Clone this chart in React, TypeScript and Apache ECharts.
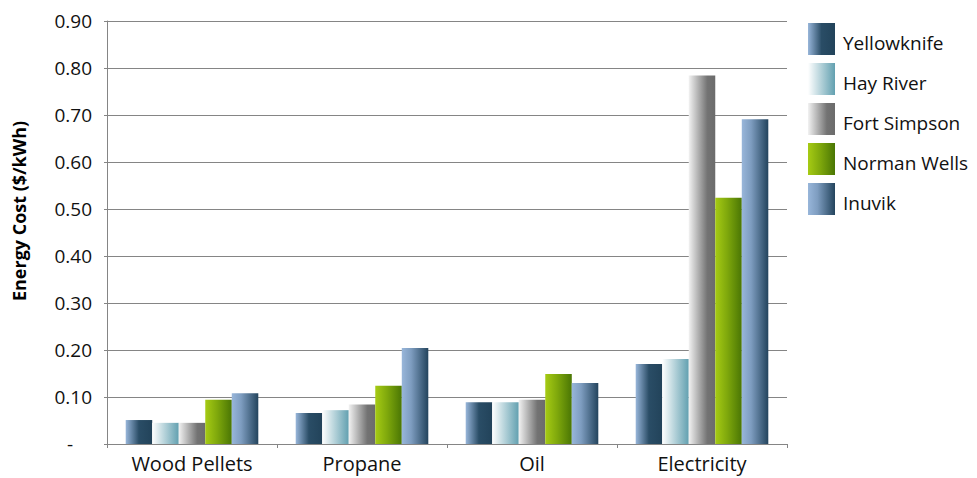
import React, { useEffect, useRef } from "react";
import * as echarts from "echarts";

// Fuel categories along the x axis
const categories = ["Wood Pellets", "Propane", "Oil", "Electricity"];

// Community names (one series each)
const communities = ["Yellowknife", "Hay River", "Fort Simpson", "Norman Wells", "Inuvik"];

// Energy cost in $/kWh, one value per fuel category
const yellowknife = [0.051, 0.066, 0.089, 0.17];
const hayRiver = [0.045, 0.072, 0.089, 0.181];
const fortSimpson = [0.045, 0.084, 0.094, 0.784];
const normanWells = [0.094, 0.124, 0.149, 0.524];
const inuvik = [0.108, 0.204, 0.13, 0.691];

const seriesValues = [yellowknife, hayRiver, fortSimpson, normanWells, inuvik];

// Horizontal gradient stops for each community's bars
const gradientStops: [number, string][][] = [
  [[0, "#98b6da"], [0.5, "#2a4d66"], [1, "#22435a"]],
  [[0, "#ffffff"], [1, "#62a0b0"]],
  [[0, "#f2f2f2"], [0.7, "#737373"], [1, "#6b6b6b"]],
  [[0, "#a6cb14"], [0.45, "#7fa80c"], [1, "#4a7604"]],
  [[0, "#98b6da"], [0.35, "#7e9dc0"], [1, "#23445d"]],
];

const FONT = "'Open Sans', 'Noto Sans', sans-serif";

function makeGradient(stops: [number, string][]) {
  return new echarts.graphic.LinearGradient(
    0,
    0,
    1,
    0,
    stops.map(([offset, color]) => ({ offset, color }))
  );
}

export default function App() {
  const ref = useRef<HTMLDivElement>(null);

  useEffect(() => {
    if (!ref.current) return;
    const chart = echarts.init(ref.current, undefined, { renderer: "svg" });

    chart.setOption({
      animation: false,
      backgroundColor: "#ffffff",
      grid: { left: 107, right: 190, top: 21, bottom: 34, containLabel: false },
      legend: {
        orient: "vertical",
        left: 803,
        top: 18,
        itemWidth: 27,
        itemHeight: 32,
        itemGap: 8,
        icon: "rect",
        selectedMode: false,
        data: communities,
        formatter: (name: string) => `{t|${name}}`,
        textStyle: {
          fontFamily: FONT,
          fontSize: 19,
          color: "#111111",
          padding: [0, 0, 0, 3],
          rich: {
            t: {
              fontFamily: FONT,
              fontSize: 19,
              color: "#111111",
              padding: [7, 0, 0, 0],
            },
          },
        },
      },
      graphic: [
        {
          type: "text",
          x: 19,
          y: 211,
          rotation: Math.PI / 2,
          style: {
            text: "Energy Cost ($/kWh)",
            fontFamily: FONT,
            fontSize: 18,
            fontWeight: "bold",
            fill: "#000000",
            align: "center",
            verticalAlign: "middle",
          },
        },
      ],
      xAxis: {
        type: "category",
        data: categories,
        axisLine: { show: true, lineStyle: { color: "#858585", width: 1 } },
        axisTick: { show: true, length: 4, lineStyle: { color: "#858585" } },
        axisLabel: {
          fontFamily: FONT,
          fontSize: 20,
          color: "#111111",
          margin: 9,
        },
      },
      yAxis: {
        type: "value",
        min: 0,
        max: 0.9,
        interval: 0.1,
        axisLine: { show: true, lineStyle: { color: "#858585", width: 1 } },
        axisTick: { show: true, length: 3, lineStyle: { color: "#858585" } },
        splitLine: { show: true, lineStyle: { color: "#858585", width: 1 } },
        axisLabel: {
          fontFamily: FONT,
          fontSize: 19,
          color: "#111111",
          margin: 15,
          formatter: (v: number) => (v === 0 ? "{dash|-}" : v.toFixed(2)),
          rich: {
            dash: { fontFamily: FONT, fontSize: 19, color: "#111111", padding: [0, 19, 0, 0] },
          },
        },
      },
      series: communities.map((name, i) => ({
        name,
        type: "bar",
        data: seriesValues[i],
        barGap: "0%",
        barCategoryGap: "22%",
        itemStyle: { color: makeGradient(gradientStops[i]) },
      })),
    });

    return () => chart.dispose();
  }, []);

  return (
    <div
      ref={ref}
      style={{ position: "fixed", left: 0, top: 0, width: 977, height: 478 }}
    />
  );
}
